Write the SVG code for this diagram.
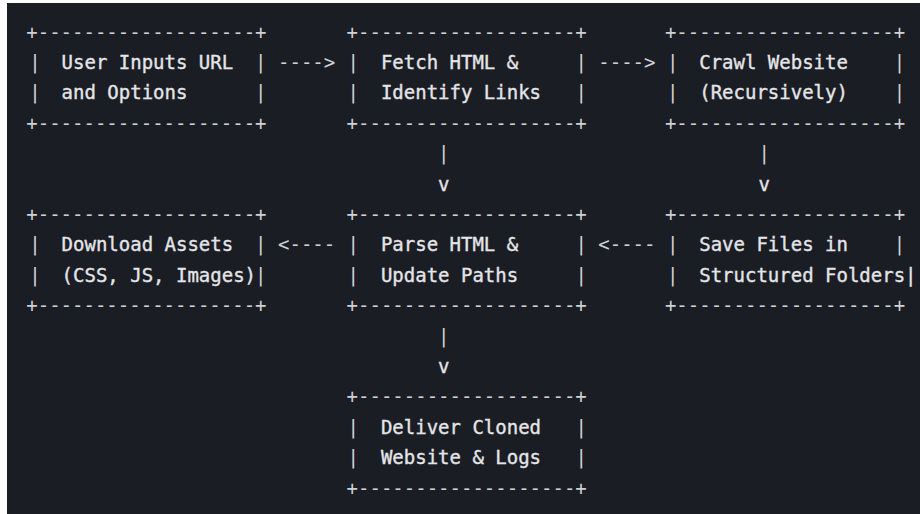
<svg xmlns="http://www.w3.org/2000/svg" width="920" height="514" viewBox="0 0 920 514">
  <style>
    .t { font-family: "DejaVu Sans Mono", "Liberation Mono", monospace; font-size: 19px; fill: #e4e5e8; stroke: #e4e5e8; stroke-width: 0.35px; }
    .b { fill: #d0d1d6; stroke: none; }
  </style>
  <!-- page and terminal panel -->
  <rect x="0" y="0" width="920" height="514" fill="#ffffff"/>
  <rect x="7" y="3" width="913" height="511" fill="#1b1d24"/>

  <!-- connectors: horizontal arrows and vertical drops -->
  <g id="connectors" class="t">
    <text x="278.0" y="68.9" class="b">----&gt;</text>
    <text x="598.3" y="68.9" class="b">----&gt;</text>
    <text x="438.1" y="160.1" class="b">|</text>
    <text x="438.1" y="190.5">v</text>
    <text x="758.5" y="160.1" class="b">|</text>
    <text x="758.5" y="190.5">v</text>
    <text x="278.0" y="251.3" class="b">&lt;----</text>
    <text x="598.3" y="251.3" class="b">&lt;----</text>
    <text x="438.1" y="342.5" class="b">|</text>
    <text x="438.1" y="372.9">v</text>
  </g>

  <!-- each box: ASCII border lines, side bars, and two label lines -->
  <g id="user-input" class="t">
    <text x="26.3" y="38.5" class="b">+-------------------+</text>
    <text x="29.3" y="68.9" class="b">|</text><text x="61.6" y="68.9">User Inputs URL</text><text x="255.1" y="68.9" class="b">|</text>
    <text x="29.3" y="99.3" class="b">|</text><text x="61.6" y="99.3">and Options</text><text x="255.1" y="99.3" class="b">|</text>
    <text x="26.3" y="129.7" class="b">+-------------------+</text>
  </g>

  <g id="fetch-html" class="t">
    <text x="346.6" y="38.5" class="b">+-------------------+</text>
    <text x="347.6" y="68.9" class="b">|</text><text x="380.9" y="68.9">Fetch HTML &amp;</text><text x="575.4" y="68.9" class="b">|</text>
    <text x="347.6" y="99.3" class="b">|</text><text x="380.9" y="99.3">Identify Links</text><text x="575.4" y="99.3" class="b">|</text>
    <text x="346.6" y="129.7" class="b">+-------------------+</text>
  </g>

  <g id="crawl-website" class="t">
    <text x="664.9" y="38.5" class="b">+-------------------+</text>
    <text x="666.9" y="68.9" class="b">|</text><text x="699.2" y="68.9">Crawl Website</text><text x="893.7" y="68.9" class="b">|</text>
    <text x="666.9" y="99.3" class="b">|</text><text x="699.2" y="99.3">(Recursively)</text><text x="893.7" y="99.3" class="b">|</text>
    <text x="664.9" y="129.7" class="b">+-------------------+</text>
  </g>

  <g id="download-assets" class="t">
    <text x="26.3" y="220.9" class="b">+-------------------+</text>
    <text x="29.3" y="251.3" class="b">|</text><text x="61.6" y="251.3">Download Assets</text><text x="255.1" y="251.3" class="b">|</text>
    <text x="29.3" y="281.7" class="b">|</text><text x="61.6" y="281.7">(CSS, JS, Images)</text><text x="255.1" y="281.7" class="b">|</text>
    <text x="26.3" y="312.1" class="b">+-------------------+</text>
  </g>

  <g id="parse-html" class="t">
    <text x="346.6" y="220.9" class="b">+-------------------+</text>
    <text x="347.6" y="251.3" class="b">|</text><text x="380.9" y="251.3">Parse HTML &amp;</text><text x="575.4" y="251.3" class="b">|</text>
    <text x="347.6" y="281.7" class="b">|</text><text x="380.9" y="281.7">Update Paths</text><text x="575.4" y="281.7" class="b">|</text>
    <text x="346.6" y="312.1" class="b">+-------------------+</text>
  </g>

  <g id="save-files" class="t">
    <text x="664.9" y="220.9" class="b">+-------------------+</text>
    <text x="666.9" y="251.3" class="b">|</text><text x="699.2" y="251.3">Save Files in</text><text x="893.7" y="251.3" class="b">|</text>
    <text x="666.9" y="281.7" class="b">|</text><text x="699.2" y="281.7">Structured Folders|</text>
    <text x="664.9" y="312.1" class="b">+-------------------+</text>
  </g>

  <g id="deliver" class="t">
    <text x="346.6" y="403.3" class="b">+-------------------+</text>
    <text x="347.6" y="433.7" class="b">|</text><text x="380.9" y="433.7">Deliver Cloned</text><text x="575.4" y="433.7" class="b">|</text>
    <text x="347.6" y="464.1" class="b">|</text><text x="380.9" y="464.1">Website &amp; Logs</text><text x="575.4" y="464.1" class="b">|</text>
    <text x="346.6" y="494.5" class="b">+-------------------+</text>
  </g>
</svg>
